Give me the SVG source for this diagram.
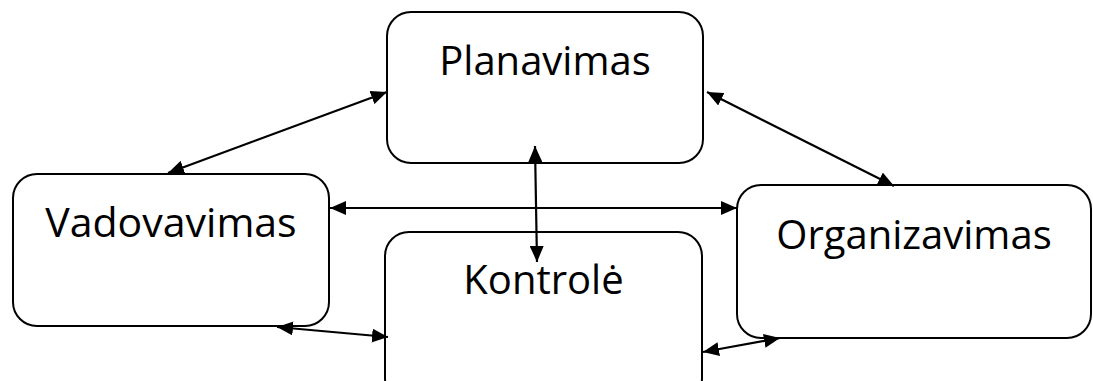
<svg xmlns="http://www.w3.org/2000/svg" width="1093" height="381" viewBox="0 0 1093 381">
  <defs>
    <style>
      .box { fill: #ffffff; stroke: #000000; stroke-width: 2; }
      .lbl { font-family: "Open Sans", "Noto Sans", sans-serif; fill: #000000; text-anchor: middle; }
      .con { stroke: #000000; stroke-width: 2.2; fill: none; marker-start: url(#ah); marker-end: url(#ah); }
    </style>
    <marker id="ah" markerUnits="userSpaceOnUse" markerWidth="17" markerHeight="14" refX="16" refY="7" orient="auto-start-reverse">
      <path d="M0,0 L16,7 L0,14 z" fill="#000000"/>
    </marker>
  </defs>
  <rect width="1093" height="381" fill="#ffffff"/>
  <g id="planavimas">
    <rect class="box" x="387" y="12" width="316" height="151" rx="24" ry="24"/>
    <text class="lbl" x="545" y="75" font-size="40">Planavimas</text>
  </g>
  <g id="vadovavimas">
    <rect class="box" x="13" y="174" width="316" height="152" rx="24" ry="24"/>
    <text class="lbl" x="171" y="237" font-size="41">Vadovavimas</text>
  </g>
  <g id="kontrole">
    <rect class="box" x="385" y="232" width="317" height="170" rx="24" ry="24"/>
    <text class="lbl" x="543.5" y="294" font-size="40">Kontrolė</text>
  </g>
  <g id="organizavimas">
    <rect class="box" x="737" y="185" width="354" height="153" rx="24" ry="24"/>
    <text class="lbl" x="914" y="249" font-size="40">Organizavimas</text>
  </g>
  <g id="connectors">
    <line class="con" x1="168" y1="173" x2="387" y2="92"/>
    <line class="con" x1="707" y1="92" x2="894" y2="186"/>
    <line class="con" x1="535" y1="146" x2="537" y2="262"/>
    <line class="con" x1="330" y1="208" x2="737" y2="208"/>
    <line class="con" x1="277" y1="327" x2="388" y2="337"/>
    <line class="con" x1="703" y1="352" x2="780" y2="338"/>
  </g>
</svg>
